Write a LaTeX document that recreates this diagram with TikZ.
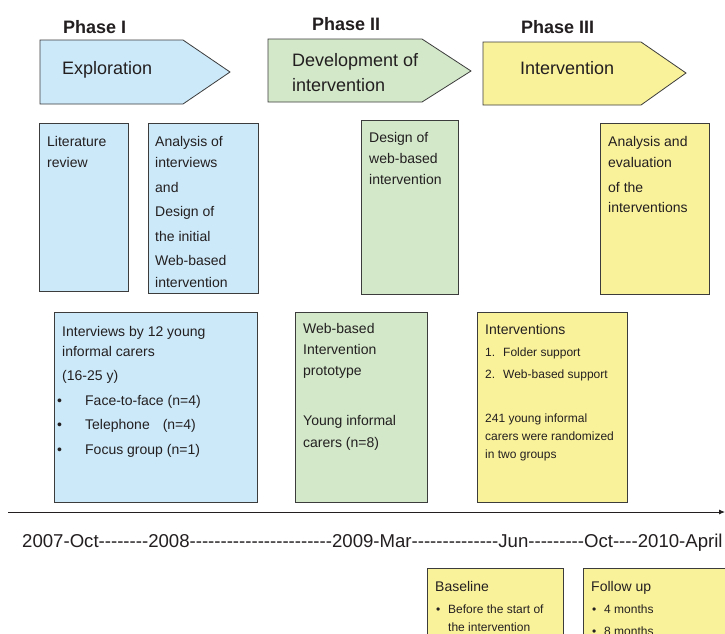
\documentclass[tikz,border=0pt]{standalone}
\usepackage{fontspec}
\setmainfont{Liberation Sans}
\newfontfamily\tlfont{Liberation Sans}[Ligatures=TeXOff]
\usetikzlibrary{arrows.meta}
\definecolor{bluef}{HTML}{CCE9F9}
\definecolor{greenf}{HTML}{D2E8C9}
\definecolor{yellowf}{HTML}{FAF29B}
\definecolor{edge}{HTML}{3C3C3C}
\definecolor{ink}{HTML}{231F20}
\begin{document}
\begin{tikzpicture}[x=1pt,y=-1pt,
  box/.style={draw=edge, line width=0.9pt, inner sep=0, anchor=north west},
  phasearrow/.style={draw=edge, line width=0.8pt},
  phase/.style={font=\fontsize{18}{22}\selectfont\bfseries, text=ink, inner sep=0, anchor=north west},
  arrowtxt/.style={font=\fontsize{18}{25}\selectfont, text=ink, inner sep=0, anchor=north west, align=left},
  txt/.style={font=\fontsize{14}{21}\selectfont, text=ink, inner sep=0, anchor=north west, align=left},
  small/.style={font=\fontsize{12}{18}\selectfont, text=ink, inner sep=0, anchor=north west, align=left},
]
\clip (0,0) rectangle (725,633);
\fill[white] (0,0) rectangle (725,633);

% phase headings
\node[phase] (ph1) at (63,20) {Phase I};
\node[phase] (ph2) at (312,17) {Phase II};
\node[phase] (ph3) at (521,20) {Phase III};

% phase arrows
\draw[phasearrow, fill=bluef] (40,40) -- (183,40) -- (230,72) -- (183,104) -- (40,104) -- cycle;
\draw[phasearrow, fill=greenf] (268,39) -- (422,39) -- (471,71) -- (422,102) -- (268,102) -- cycle;
\draw[phasearrow, fill=yellowf] (483,42) -- (641,42) -- (686,73) -- (641,105) -- (483,105) -- cycle;
\node[arrowtxt] (a1) at (62,61) {Exploration};
\node[arrowtxt] (a2) at (292,53) {Development of\\intervention};
\node[arrowtxt] (a3) at (520,61) {Intervention};

% first row boxes
\node[box, fill=bluef, minimum width=89pt, minimum height=168pt] (lit) at (39,123) {};
\node[box, fill=bluef, minimum width=110pt, minimum height=170pt] (ana) at (148,123) {};
\node[box, fill=greenf, minimum width=97pt, minimum height=174pt] (des) at (361,120) {};
\node[box, fill=yellowf, minimum width=109pt, minimum height=171pt] (eva) at (600,123) {};
\node[txt] (litt) at (47,136) {Literature\\review};
\node[txt] (anat) at (155,136) {Analysis of\\interviews\\[4pt]and\\[3pt]Design of\\[4pt]the initial\\[3pt]Web-based\\[1pt]intervention};
\node[txt] (dest) at (369,132) {Design of\\web-based\\intervention};
\node[txt] (evat) at (608,136) {Analysis and\\evaluation\\[4pt]of the\\[-1pt]interventions};

% second row boxes
\node[box, fill=bluef, minimum width=203pt, minimum height=190pt] (intv) at (54,312) {};
\node[box, fill=greenf, minimum width=132pt, minimum height=190pt] (proto) at (295,312) {};
\node[box, fill=yellowf, minimum width=150pt, minimum height=190pt] (ints) at (477,312) {};
\node[txt, font=\fontsize{14}{20}\selectfont] (intvt) at (62,326) {Interviews by 12 young\\informal carers\\[4pt](16-25 y)\\[5pt]%
\hspace*{-5pt}\makebox[28pt][l]{\textbullet}Face-to-face (n=4)\\[4pt]%
\hspace*{-5pt}\makebox[28pt][l]{\textbullet}Telephone\hspace{13pt}(n=4)\\[5pt]%
\hspace*{-5pt}\makebox[28pt][l]{\textbullet}Focus group (n=1)};
\node[txt] (protot) at (303,323) {Web-based\\Intervention\\prototype\\[29pt]Young informal\\[1pt]carers (n=8)};
\node[txt] (intsh) at (485,324) {Interventions};
\node[small, font=\fontsize{12}{18}\selectfont] (intsl) at (485,347.4) {\makebox[18pt][l]{1.}Folder support\\[4pt]\makebox[18pt][l]{2.}Web-based support};
\node[small] (intsp) at (485,413.4) {241 young informal\\carers were randomized\\in two groups};

% timeline
\coordinate (tl0) at (8,512);
\coordinate (tl1) at (725,512);
\draw[draw=ink, line width=0.9pt, -{Latex[length=6pt,width=5pt]}] (tl0) -- (tl1);
\node[anchor=base west, inner sep=0, text=ink, font=\tlfont\fontsize{18.6}{22}\selectfont] (dates) at (22,547)
  {2007-Oct--------2008-----------------------2009-Mar--------------Jun---------Oct----2010-April};

% bottom boxes
\node[box, fill=yellowf, minimum width=136pt, minimum height=90pt] (base) at (427,568) {};
\node[box, fill=yellowf, minimum width=170pt, minimum height=90pt] (foll) at (583,568) {};
\node[txt] (baseh) at (435,581) {Baseline};
\node[small] (basel) at (436,604.4) {\makebox[12pt][l]{\textbullet}Before the start of\\\hspace*{12pt}the intervention};
\node[txt] (follh) at (591,581) {Follow up};
\node[small] (folll) at (592,604.4) {\makebox[12pt][l]{\textbullet}4 months\\[4pt]\makebox[12pt][l]{\textbullet}8 months};
\end{tikzpicture}
\end{document}
